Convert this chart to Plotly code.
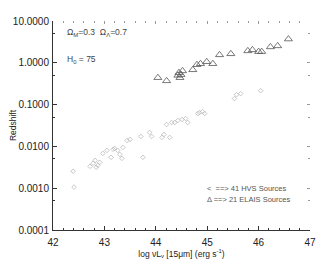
import plotly.graph_objects as go

# 41 HVS sources
hvs_logL = [42.39, 42.41, 42.72, 42.78, 42.82, 42.87, 42.91, 42.97, 43.05, 43.13,
            43.17, 43.20, 43.34, 43.36, 43.44, 43.50, 43.71, 43.75, 43.88, 43.92,
            44.12, 44.16, 44.27, 44.21, 44.31, 44.37, 44.43, 44.51, 44.58, 44.62,
            44.82, 44.85, 44.91, 44.95, 45.53, 45.57, 45.65, 46.04, 43.30, 42.84,
            43.26]
hvs_z = [0.00254, 0.00106, 0.00334, 0.00394, 0.00464, 0.00353, 0.00416, 0.00681, 0.00803, 0.00547,
         0.00849, 0.00895, 0.00518, 0.00946, 0.0139, 0.0147, 0.0173, 0.00547, 0.0215, 0.0173,
         0.0164, 0.0193, 0.0164, 0.0334, 0.0373, 0.0373, 0.0416, 0.0440, 0.0464, 0.0373,
         0.0611, 0.0645, 0.0681, 0.0611, 0.139, 0.173, 0.183, 0.215, 0.00645, 0.00316,
         0.00803]

# 21 ELAIS sources
elais_logL = [44.04, 44.21, 44.45, 44.49, 44.47, 44.43, 44.52, 44.72, 44.80, 44.87,
              44.99, 45.11, 45.24, 45.46, 45.79, 45.88, 46.00, 46.06, 46.23, 46.37,
              46.58]
elais_z = [0.44, 0.37, 0.58, 0.52, 0.44, 0.50, 0.64, 0.68, 0.90, 0.95,
           1.06, 0.95, 1.55, 1.64, 1.93, 2.04, 1.85, 1.85, 2.40, 2.54,
           3.70]

y_ticks = [0.0001, 0.001, 0.01, 0.1, 1, 10]
x_ticks = [42, 43, 44, 45, 46, 47]

FONT = "Liberation Sans, Arial, sans-serif"
AX = "#333333"

fig = go.Figure()
fig.add_trace(go.Scatter(x=hvs_logL, y=hvs_z, mode="markers",
                         marker=dict(symbol="diamond-open", size=3.5, color="#b0b0b0",
                                     line=dict(width=0.7, color="#b0b0b0")),
                         showlegend=False))
fig.add_trace(go.Scatter(x=elais_logL, y=elais_z, mode="markers",
                         marker=dict(symbol="triangle-up-open", size=7, color="#555555",
                                     line=dict(width=0.8, color="#555555")),
                         showlegend=False))
# helper trace for mirrored tick axes
fig.add_trace(go.Scatter(x=[42], y=[0.001], xaxis="x2", yaxis="y2", mode="markers",
                         marker=dict(opacity=0), showlegend=False, hoverinfo="skip"))

fig.update_layout(
    width=319, height=257,
    margin=dict(l=45, r=17, t=13, b=35),
    paper_bgcolor="white", plot_bgcolor="white",
    font=dict(family=FONT, size=9, color="#222222"),
    xaxis=dict(range=[42, 47], tickvals=x_ticks, ticktext=[str(v) for v in x_ticks],
               automargin=False, ticklabelstandoff=3,
               showgrid=False, zeroline=False, showline=True, linecolor=AX, linewidth=1,
               ticks="inside", ticklen=4, tickcolor=AX,
               minor=dict(dtick=0.2, ticks="inside", ticklen=2, tickcolor=AX),
               title=dict(text="log νL<sub>ν</sub> [15μm] (erg s<sup>-1</sup>)",
                          font=dict(size=8.5), standoff=0),
               tickfont=dict(size=10)),
    yaxis=dict(type="log", range=[-4, 1], tickvals=y_ticks,
               ticktext=["%.4f" % v for v in y_ticks],
               automargin=False, ticklabelstandoff=1,
               showgrid=False, zeroline=False, showline=True, linecolor=AX, linewidth=1,
               ticks="inside", ticklen=4, tickcolor=AX,
               minor=dict(tickvals=[0.0005, 0.005, 0.05, 0.5, 5], ticks="inside", ticklen=2, tickcolor=AX),
               title=dict(text="Redshift", font=dict(size=8.5), standoff=0),
               tickfont=dict(size=10)),
    xaxis2=dict(overlaying="x", side="top", matches="x", range=[42, 47], automargin=False,
                showticklabels=False, showline=False, showgrid=False, zeroline=False,
                tickvals=x_ticks, ticks="inside", ticklen=3, tickcolor="#999999",
                minor=dict(dtick=0.2, ticks="inside", ticklen=2, tickcolor="#999999")),
    yaxis2=dict(overlaying="y", side="right", type="log", range=[-4, 1], automargin=False,
                showticklabels=False, showline=False, showgrid=False, zeroline=False,
                tickvals=y_ticks, ticks="inside", ticklen=3, tickcolor="#999999",
                minor=dict(tickvals=[0.0005, 0.005, 0.05, 0.5, 5], ticks="inside", ticklen=2,
                           tickcolor="#999999")),
    annotations=[
        dict(xref="paper", yref="paper", x=0.045, y=0.945, xanchor="left", yanchor="middle",
             text="Ω<sub>M</sub>=0.3  Ω<sub>Λ</sub>=0.7", showarrow=False,
             font=dict(size=8.5, color="#444444")),
        dict(xref="paper", yref="paper", x=0.045, y=0.815, xanchor="left", yanchor="middle",
             text="H<sub>0</sub> = 75", showarrow=False,
             font=dict(size=8.5, color="#444444")),
        dict(xref="paper", yref="paper", x=0.59, y=0.20, xanchor="left", yanchor="middle",
             text="&lt;  ==&gt; 41 HVS Sources", showarrow=False,
             font=dict(size=7.5, color="#555555")),
        dict(xref="paper", yref="paper", x=0.59, y=0.148, xanchor="left", yanchor="middle",
             text="Δ ==&gt; 21 ELAIS Sources", showarrow=False,
             font=dict(size=7.5, color="#555555")),
    ],
)

fig.write_html("out.html")
